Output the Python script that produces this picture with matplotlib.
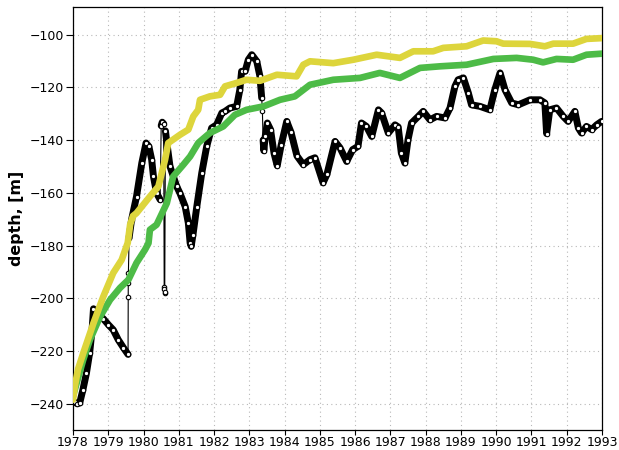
import numpy as np
import matplotlib
matplotlib.use("Agg")
import matplotlib.pyplot as plt

# Observed depth record (black), years and depth in metres
obs_year = [
    1978.05, 1978.12, 1978.19, 1978.28, 1978.38, 1978.47, 1978.54, 1978.58,
    1978.67, 1978.86, 1979.00, 1979.14, 1979.28, 1979.43, 1979.56,
    1979.563, 1979.566, 1979.57,
    1979.59, 1979.66, 1979.80, 1979.95, 1980.07, 1980.15, 1980.23, 1980.28,
    1980.37, 1980.47,
    1980.50, 1980.53, 1980.57,
    1980.585, 1980.59, 1980.595, 1980.60,
    1980.62, 1980.66, 1980.75, 1980.94, 1981.03, 1981.18, 1981.27, 1981.32,
    1981.35, 1981.40, 1981.51, 1981.65, 1981.79, 1981.93, 1982.07, 1982.22,
    1982.31, 1982.45, 1982.64, 1982.73, 1982.78, 1982.88, 1982.97, 1983.07,
    1983.21, 1983.30, 1983.35,
    1983.37,
    1983.39, 1983.41, 1983.45, 1983.51, 1983.60, 1983.70, 1983.79, 1983.90,
    1984.06, 1984.18, 1984.35, 1984.53, 1984.72, 1984.86, 1985.09, 1985.20,
    1985.43, 1985.57, 1985.76, 1985.93, 1986.08, 1986.18, 1986.32, 1986.47,
    1986.66, 1986.75, 1986.94, 1987.13, 1987.22, 1987.31, 1987.41, 1987.50,
    1987.60, 1987.79, 1987.93, 1988.12, 1988.31, 1988.55, 1988.69, 1988.83,
    1988.92, 1989.07, 1989.21, 1989.30, 1989.54, 1989.82, 1989.96, 1990.11,
    1990.25, 1990.44, 1990.63, 1990.96, 1991.24, 1991.38, 1991.43, 1991.52,
    1991.71, 1991.90, 1992.04, 1992.23, 1992.33, 1992.42, 1992.56, 1992.71,
    1992.85, 1992.99,
]
obs_depth = [
    -239.5, -240.0, -239.7, -234.7, -228.4, -220.8, -212.0, -204.0,
    -205.6, -207.8, -210.0, -212.0, -215.7, -218.8, -221.3,
    -199.4, -194.1, -190.3,
    -177.0, -170.2, -161.4, -148.7, -141.1, -142.4, -147.4, -153.8,
    -160.1, -162.6,
    -134.5, -133.2, -133.8,
    -195.6, -196.4, -198.0, -197.5,
    -136.5, -141.0, -150.0, -157.6, -160.1, -165.2, -171.5, -179.0,
    -180.3, -176.0, -165.2, -152.5, -142.4, -135.4, -134.2, -129.7,
    -129.1, -127.8, -127.2, -120.9, -113.9, -113.9, -109.5, -107.6,
    -110.1, -115.8, -124.0,
    -129.1,
    -140.0, -144.0, -138.5, -133.5, -136.0, -145.0, -149.7, -142.0,
    -132.9, -137.0, -146.0, -149.3, -147.4, -146.7, -156.2, -153.0,
    -140.5, -142.9, -148.1, -143.6, -142.4, -133.5, -134.8, -138.6,
    -128.5, -129.7, -137.3, -134.2, -135.0, -144.9, -148.7, -139.8,
    -133.5, -131.0, -129.1, -132.3, -131.0, -131.6, -127.8, -119.6,
    -117.1, -116.4, -122.1, -126.6, -127.2, -128.5, -120.9, -114.5,
    -120.9, -125.9, -126.6, -124.7, -124.7, -125.9, -137.5, -128.5,
    -127.8, -131.0, -132.9, -129.1, -135.4, -137.3, -134.8, -136.0,
    -134.2, -132.9,
]
# Time spans with continuous record; the rest are abrupt jumps
continuous_spans = [
    (1978.0, 1979.56), (1979.59, 1980.47), (1980.50, 1980.57),
    (1980.62, 1983.35), (1983.39, 1993.0),
]

# Model run 1 (yellow)
run1_year = [
    1978.00, 1978.05, 1978.14, 1978.29, 1978.58, 1978.86, 1979.14, 1979.38,
    1979.47, 1979.55, 1979.62, 1979.70, 1979.80, 1980.18, 1980.42, 1980.61,
    1980.70, 1981.03, 1981.27, 1981.41, 1981.55, 1981.60, 1981.88, 1982.17,
    1982.31, 1982.64, 1982.92, 1983.30, 1983.78, 1984.34, 1984.53, 1984.72,
    1985.38, 1985.95, 1986.61, 1987.27, 1987.65, 1988.21, 1988.50, 1989.16,
    1989.63, 1990.01, 1990.20, 1990.96, 1991.38, 1991.62, 1992.18, 1992.56,
    1993.00,
]
run1_depth = [
    -238.5, -233.5, -227.0, -220.8, -209.4, -199.3, -190.4, -185.4,
    -182.0, -179.0, -172.0, -168.8, -167.7, -161.4, -157.6, -147.4,
    -141.1, -138.0, -136.0, -131.0, -128.5, -124.7, -123.4, -122.8,
    -119.6, -118.3, -117.1, -117.5, -115.2, -115.8, -111.4, -110.1,
    -110.8, -109.5, -107.6, -108.8, -106.3, -106.3, -105.0, -104.4,
    -102.2, -102.5, -103.4, -103.5, -104.4, -103.4, -103.4, -101.6,
    -101.3,
]

# Model run 2 (green)
run2_year = [
    1978.00, 1978.05, 1978.29, 1978.48, 1978.77, 1979.05, 1979.33, 1979.57,
    1979.80, 1980.04, 1980.14, 1980.18, 1980.37, 1980.66, 1980.84, 1981.13,
    1981.32, 1981.55, 1981.60, 1981.88, 1982.26, 1982.59, 1982.92, 1983.40,
    1983.87, 1984.29, 1984.72, 1985.38, 1986.14, 1986.70, 1987.27, 1987.84,
    1988.41, 1989.16, 1989.92, 1990.58, 1991.05, 1991.33, 1991.71, 1992.18,
    1992.56, 1993.00,
]
run2_depth = [
    -237.0, -234.7, -223.3, -215.7, -206.9, -200.6, -196.1, -193.0,
    -186.6, -181.6, -179.1, -174.0, -172.1, -163.9, -153.8, -149.3,
    -146.2, -141.1, -140.5, -137.3, -134.8, -130.4, -128.5, -127.2,
    -124.7, -123.4, -119.0, -117.1, -116.4, -114.5, -116.4, -112.6,
    -112.0, -111.4, -109.2, -108.8, -109.5, -110.5, -109.2, -109.5,
    -107.6, -107.2,
]

year_ticks = list(range(1978, 1994))
depth_ticks = list(range(-240, -99, 20))

yellow = "#ddd53c"
green = "#4dbb47"

fig = plt.figure(figsize=(6.19, 4.5), dpi=100)
ax = fig.add_axes([0.118, 0.0444, 0.8545, 0.94])

t = np.array(obs_year)
d = np.array(obs_depth)

# thin connecting line through every observation
ax.plot(t, d, color="black", lw=0.8, zorder=2)
# continuous stretches drawn heavy
for t0, t1 in continuous_spans:
    m = (t >= t0 - 1e-9) & (t <= t1 + 1e-9)
    ax.plot(t[m], d[m], color="black", lw=5.0, solid_capstyle="round",
            solid_joinstyle="round", zorder=2)
ax.plot(t, d, linestyle="none", marker="o", ms=3.2, mfc="white",
        mec="black", mew=0.8, zorder=3)

ax.plot(run2_year, run2_depth, color=green, lw=4.8, solid_capstyle="round",
        solid_joinstyle="round", zorder=4)
ax.plot(run1_year, run1_depth, color=yellow, lw=4.8, solid_capstyle="round",
        solid_joinstyle="round", zorder=5)

ax.set_xlim(1978, 1993)
ax.set_ylim(-250, -89.5)
ax.set_xticks(year_ticks)
ax.set_xticklabels([str(y) for y in year_ticks])
ax.set_yticks(depth_ticks)
ax.set_yticklabels([f"\u2212{abs(v)}" for v in depth_ticks])

ax.grid(True, color="#b8b8b8", linestyle=(0, (1, 3)), lw=0.8)
ax.set_axisbelow(True)

ax.tick_params(axis="both", direction="out", width=0.8, labelsize=9,
               colors="black")
ax.tick_params(axis="x", length=3.5, pad=0.5)
ax.tick_params(axis="y", length=5, pad=1.5)
for s in ax.spines.values():
    s.set_linewidth(0.9)
    s.set_color("black")

ax.set_ylabel("depth, [m]", fontsize=11.4, fontweight="bold", labelpad=4)

fig.savefig("out.png", dpi=100)
